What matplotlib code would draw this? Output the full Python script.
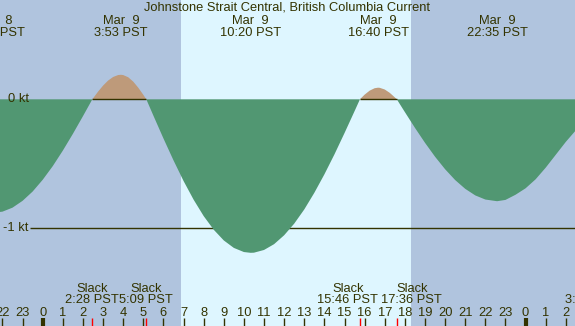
import matplotlib
matplotlib.use("Agg")
import matplotlib.pyplot as plt
import matplotlib.transforms as mtrans
import numpy as np

# ---------------- data (hours since 00:00 Mar 9, PST) ----------------
hours = [-2.5, -2.0, -1.5, -1.0, -0.5, 0.0, 0.5, 1.0, 1.5, 2.0, 2.467, 2.75, 3.0,
         3.25, 3.5, 3.75, 3.883, 4.0, 4.25, 4.5, 4.75, 5.0, 5.15, 5.5, 6.0, 6.5,
         7.0, 7.5, 8.0, 8.5, 9.0, 9.5, 10.0, 10.333, 10.5, 11.0, 11.5, 12.0, 12.5,
         13.0, 13.5, 14.0, 14.5, 15.0, 15.5, 15.767, 16.0, 16.25, 16.5, 16.667,
         16.75, 17.0, 17.25, 17.5, 17.6, 18.0, 18.5, 19.0, 19.5, 20.0, 20.5, 21.0,
         21.5, 22.0, 22.583, 23.0, 23.5, 24.0, 24.5, 25.0, 25.5, 26.0, 26.5]
speeds = [-0.88, -0.871, -0.840, -0.787, -0.715, -0.624, -0.518, -0.398, -0.268,
          -0.131, 0.0, 0.059, 0.106, 0.145, 0.173, 0.188, 0.19, 0.188, 0.171, 0.137,
          0.090, 0.035, 0.0, -0.126, -0.303, -0.473, -0.633, -0.778, -0.905, -1.011,
          -1.094, -1.152, -1.184, -1.19, -1.189, -1.168, -1.123, -1.054, -0.964,
          -0.854, -0.725, -0.582, -0.427, -0.262, -0.092, 0.0, 0.036, 0.067, 0.086,
          0.09, 0.089, 0.076, 0.050, 0.015, 0.0, -0.099, -0.221, -0.337, -0.445,
          -0.542, -0.626, -0.694, -0.745, -0.777, -0.79, -0.78, -0.74, -0.69, -0.62,
          -0.53, -0.43, -0.33, -0.24]

sunrise = 6.87
sunset = 18.30

max_times = [-2.42, 3.883, 10.333, 16.667, 22.583]
max_dates = ["Mar  8", "Mar  9", "Mar  9", "Mar  9", "Mar  9"]
max_clock = ["21:35 PST", "3:53 PST", "10:20 PST", "16:40 PST", "22:35 PST"]

slack_times = [2.467, 5.15, 15.767, 17.6, 27.28]
slack_clock = ["2:28 PST", "5:09 PST", "15:46 PST", "17:36 PST", "3:17 PST"]

hour_ticks = list(range(-2, 27))
hour_labels = [str(h % 24) for h in hour_ticks]
midnights = [0, 24]

kt_levels = [0, -1]
kt_labels = ["0 kt", "-1 kt"]

title = "Johnstone Strait Central, British Columbia Current"

# ---------------- styling ----------------
W, H = 575, 326
NIGHT = "#b0c4de"
DAY = "#def6ff"
GREEN = "#519772"
TAN = "#be9a7a"
INK = "#333300"
FONT = "Liberation Sans"
FS = 9.3

px_per_hr = 20.12
x0_px = 42.7
y0_px = 99.3
px_per_kt = 129.0

fig = plt.figure(figsize=(W / 100, H / 100), dpi=100)
ax = fig.add_axes([0, 0, 1, 1])
ax.set_axis_off()
xmin = (0 - x0_px) / px_per_hr
xmax = (W - x0_px) / px_per_hr
ymax = y0_px / px_per_kt
ymin = (y0_px - H) / px_per_kt
ax.set_xlim(xmin, xmax)
ax.set_ylim(ymin, ymax)

# background day / night
ax.axvspan(xmin, sunrise, color=NIGHT, lw=0, zorder=0)
ax.axvspan(sunrise, sunset, color=DAY, lw=0, zorder=0)
ax.axvspan(sunset, xmax, color=NIGHT, lw=0, zorder=0)

t = np.array(hours)
v = np.array(speeds)

# -1 kt line (behind the fill)
bt = mtrans.blended_transform_factory(ax.transAxes, ax.transData)
ax.plot([30 / W, 1], [kt_levels[1], kt_levels[1]], color=INK, lw=1.0,
        transform=bt, zorder=1, solid_capstyle="butt")

ax.fill_between(t, v, 0, where=v <= 0, interpolate=True, color=GREEN, lw=0, zorder=2)
ax.fill_between(t, v, 0, where=v >= 0, interpolate=True, color=TAN, lw=0, zorder=2)

# zero line where flood
ax.plot(t, np.where(v >= 0, 0.0, np.nan), color=INK, lw=1.0, zorder=3,
        solid_capstyle="butt")

# kt labels
for lev, lab in zip(kt_levels, kt_labels):
    ax.text(28.5 / W, lev, lab, transform=bt, ha="right", va="center",
            color=INK, fontsize=FS, family=FONT, zorder=5)

# text helpers (x in data, y in pixels from top)
tt = mtrans.blended_transform_factory(ax.transData, ax.transAxes)


def ypx(p):
    return 1 - p / H


# title
fig.text(0.5 * (143 + 431) / W, ypx(11), title, ha="center", va="baseline",
         color=INK, fontsize=FS, family=FONT)

for tm, d, c in zip(max_times, max_dates, max_clock):
    ax.text(tm, ypx(24.3), d, transform=tt, ha="center", va="baseline",
            color=INK, fontsize=FS, family=FONT)
    ax.text(tm, ypx(36), c, transform=tt, ha="center", va="baseline",
            color=INK, fontsize=FS, family=FONT)

label_shift_px = [0, 0, -12, 15, 0]
for tm, c, sh in zip(slack_times, slack_clock, label_shift_px):
    xl = tm + sh / px_per_hr
    ax.text(xl, ypx(291.7), "Slack", transform=tt, ha="center", va="baseline",
            color=INK, fontsize=FS, family=FONT)
    ax.text(xl, ypx(303.3), c, transform=tt, ha="center", va="baseline",
            color=INK, fontsize=FS, family=FONT)

# hour labels and ticks
for h, lab in zip(hour_ticks, hour_labels):
    ax.text(h, ypx(316), lab, transform=tt, ha="center", va="baseline",
            color=INK, fontsize=FS, family=FONT)
    lw = 3.0 if h in midnights else 1.0
    ax.plot([h, h], [0, 8 / H], transform=tt, color=INK, lw=lw,
            solid_capstyle="butt")

for s in slack_times:
    ax.plot([s, s], [0, 8 / H], transform=tt, color="red", lw=1.0,
            solid_capstyle="butt")

fig.savefig("out.png", dpi=100)
